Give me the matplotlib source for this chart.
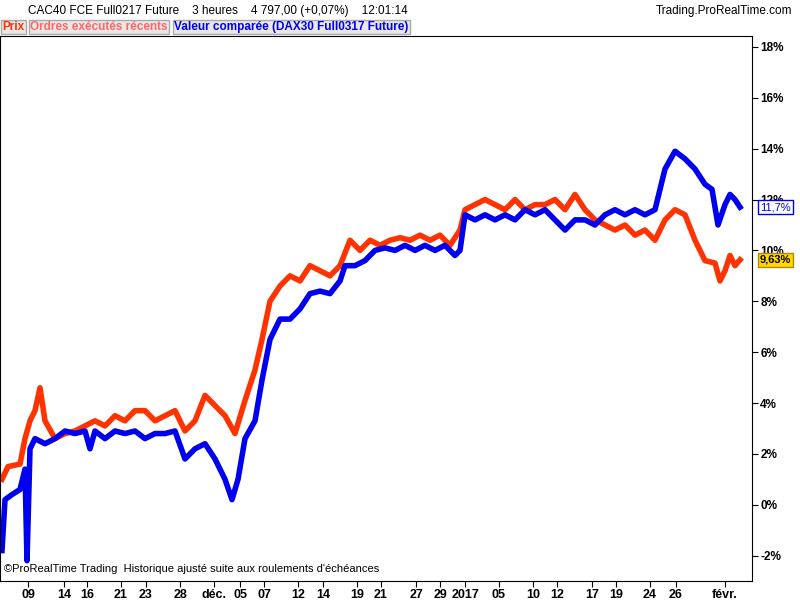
import matplotlib.pyplot as plt

# bar index (time axis) and percent change
cac_x = [2, 8, 20, 25, 30, 35, 40, 45, 55, 65, 75, 85, 95, 105, 115, 125, 135, 145, 155, 165, 175, 185,
         195, 205, 215, 225, 235, 245, 255, 262, 270, 280, 290, 300, 310, 320, 330, 340, 350, 360, 370,
         380, 390, 400, 410, 420, 430, 440, 450, 460, 465, 475, 485, 495, 505, 515, 525, 535, 545, 555,
         565, 575, 585, 595, 605, 615, 625, 635, 645, 655, 665, 675, 685, 695, 705, 715, 720, 725, 730, 735, 740]
cac_y = [1.0, 1.5, 1.6, 2.6, 3.3, 3.7, 4.6, 3.3, 2.6, 2.8, 2.9, 3.1, 3.3, 3.1, 3.5, 3.3, 3.7, 3.7, 3.3, 3.5,
         3.7, 2.9, 3.3, 4.3, 3.9, 3.5, 2.8, 4.1, 5.3, 6.5, 8.0, 8.6, 9.0, 8.8, 9.4, 9.2, 9.0, 9.4, 10.4,
         10.0, 10.4, 10.2, 10.4, 10.5, 10.4, 10.6, 10.4, 10.6, 10.2, 10.8, 11.6, 11.8, 12.0, 11.8, 11.6,
         12.0, 11.6, 11.8, 11.8, 12.0, 11.6, 12.2, 11.6, 11.2, 11.0, 10.8, 11.0, 10.6, 10.8, 10.4, 11.2,
         11.6, 11.4, 10.4, 9.6, 9.5, 8.8, 9.2, 9.8, 9.4, 9.63]

dax_x = [2, 5, 12, 20, 25, 27, 30, 35, 45, 55, 65, 75, 85, 90, 95, 105, 115, 125, 135, 145, 155, 165,
         175, 185, 195, 205, 215, 225, 232, 238, 245, 255, 262, 270, 280, 290, 300, 310, 320, 330, 340,
         345, 355, 365, 375, 385, 395, 405, 415, 425, 435, 445, 455, 460, 465, 475, 485, 495, 505, 515,
         525, 535, 545, 555, 565, 575, 585, 595, 605, 615, 625, 635, 645, 655, 665, 675, 685, 695, 705,
         712, 718, 725, 730, 735, 740]
dax_y = [-1.8, 0.2, 0.4, 0.6, 1.4, -2.2, 2.2, 2.6, 2.4, 2.6, 2.9, 2.8, 2.9, 2.2, 2.9, 2.6, 2.9, 2.8, 2.9,
         2.6, 2.8, 2.8, 2.9, 1.8, 2.2, 2.4, 1.8, 1.0, 0.2, 1.0, 2.6, 3.3, 4.9, 6.5, 7.3, 7.3, 7.7, 8.3,
         8.4, 8.3, 8.8, 9.4, 9.4, 9.6, 10.0, 10.1, 10.0, 10.2, 10.0, 10.2, 10.0, 10.2, 9.8, 10.0, 11.4,
         11.2, 11.4, 11.2, 11.4, 11.2, 11.6, 11.4, 11.6, 11.2, 10.8, 11.2, 11.2, 11.0, 11.4, 11.6, 11.4,
         11.6, 11.4, 11.6, 13.2, 13.9, 13.6, 13.2, 12.6, 12.4, 11.0, 11.8, 12.2, 12.0, 11.7]

tick_pos = [28, 64, 87, 121, 146, 180, 214, 240, 264, 298, 323, 357, 381, 416, 440, 465, 499, 533,
            557, 592, 616, 650, 676, 725]
tick_labels = ['09', '14', '16', '21', '23', '28', 'déc.', '05', '07', '12', '14', '19', '21', '27',
               '29', '2017', '05', '10', '12', '17', '19', '24', '26', 'févr.']
y_ticks = [-2, 0, 2, 4, 6, 8, 10, 12, 14, 16, 18]

plt.rcParams['font.family'] = ['Liberation Sans', 'DejaVu Sans']
fig = plt.figure(figsize=(8, 6), dpi=100)
ax = fig.add_axes([0.0, 0.032, 0.94, 0.908])

ax.plot(cac_x, cac_y, color='#ff3300', lw=4, solid_joinstyle='round')
ax.plot(dax_x, dax_y, color='#0000ee', lw=4, solid_joinstyle='round')

ax.set_xlim(0, 752)
ax.set_ylim(-2.99, 18.43)
ax.yaxis.tick_right()
ax.set_yticks(y_ticks)
ax.set_yticklabels([f'{v}%' for v in y_ticks], fontsize=8.5, fontweight='bold')
ax.set_xticks(tick_pos)
ax.set_xticklabels(tick_labels, fontsize=9, fontweight='bold')
ax.tick_params(direction='out', length=4, pad=2)

# last-value boxes drawn over the axis labels, as in the reference
ax.text(760, 11.7, '11,7%', color='#0000ee', fontsize=8, ha='left', va='center', zorder=10,
        bbox=dict(fc='white', ec='#0000ee', pad=1.5), clip_on=False)
ax.text(760, 9.63, '9,63%', color='black', fontsize=8, fontweight='bold', ha='left', va='center',
        zorder=10, bbox=dict(fc='#ffd700', ec='#b8860b', pad=1.5), clip_on=False)

ax.text(0.005, 0.012, '©ProRealTime Trading  Historique ajusté suite aux roulements d\'échéances',
        transform=ax.transAxes, fontsize=8, va='bottom')

fig.text(0.035, 0.981, 'CAC40 FCE Full0217 Future    3 heures    4 797,00 (+0,07%)    12:01:14',
         fontsize=8.5, va='center')
fig.text(0.99, 0.981, 'Trading.ProRealTime.com', fontsize=8.5, ha='right', va='center')
fig.text(0.003, 0.955, 'Prix', color='#ff3300', fontsize=8.5, fontweight='bold', va='center',
         bbox=dict(fc='#e8e8e8', ec='#aaaaaa', pad=1))
fig.text(0.038, 0.955, 'Ordres exécutés récents', color='#ff6666', fontsize=8.5, fontweight='bold',
         va='center', bbox=dict(fc='#e8e8e8', ec='#aaaaaa', pad=1))
fig.text(0.218, 0.955, 'Valeur comparée (DAX30 Full0317 Future)', color='#0000ee', fontsize=8.5,
         fontweight='bold', va='center', bbox=dict(fc='#e8e8e8', ec='#aaaaaa', pad=1))

fig.savefig('out.png', dpi=100)
